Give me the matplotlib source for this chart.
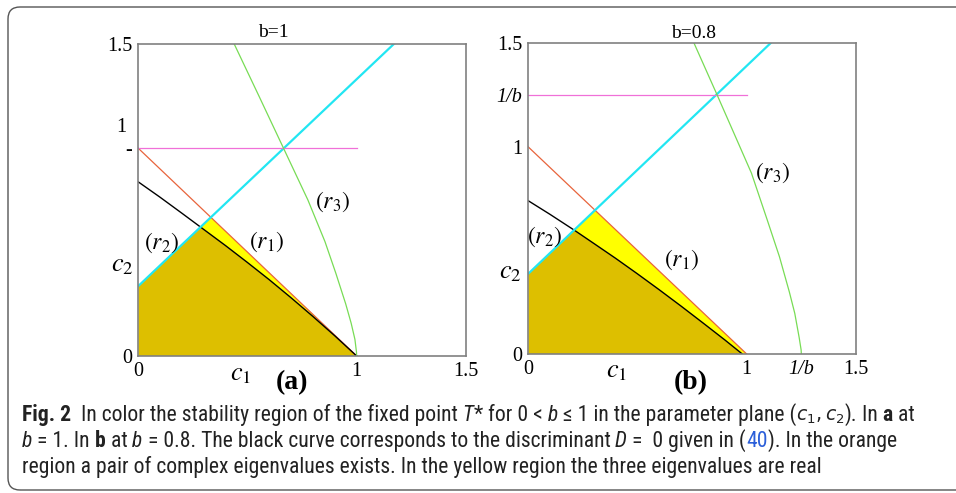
"""
Stability region of the fixed point T* in the (c1, c2) plane, b = 1 and b = 0.8
"""

import matplotlib
matplotlib.use("Agg")
import matplotlib.pyplot as plt
import matplotlib.transforms as mtransforms
from matplotlib import font_manager
from matplotlib.patches import Polygon, FancyBboxPatch


# ── Data ──────────────────────────────────────────────────────────────────────

LIM = 1.5

# panel (a), b = 1
a_r1_c1 = [0.0, 1.0]
a_r1_c2 = [1.0, 0.0]
a_r2_c1 = [0.0, 1.17]
a_r2_c2 = [0.335, 1.5]
a_inv_c1 = [0.0, 1.0]
a_inv_c2 = [1.0, 1.0]
a_disc_c1 = [0.0, 0.1, 0.2, 0.291, 0.4, 0.5, 0.6, 0.7, 0.8, 0.9, 1.0]
a_disc_c2 = [0.838, 0.764, 0.687, 0.616, 0.531, 0.450, 0.367, 0.280, 0.190, 0.097, 0.0]
a_r3_c2 = [0.0, 0.02, 0.08, 0.157, 0.25, 0.397, 0.55, 0.75, 1.0, 1.25, 1.5]
a_r3_c1 = [1.0, 0.999, 0.992, 0.975, 0.950, 0.905, 0.855, 0.777, 0.665, 0.553, 0.44]

# panel (b), b = 0.8
b_r1_c1 = [0.0, 1.0]
b_r1_c2 = [1.0, 0.0]
b_r2_c1 = [0.0, 1.11]
b_r2_c2 = [0.386, 1.5]
b_inv_c1 = [0.0, 1.0]
b_inv_c2 = [1.25, 1.25]
b_disc_c1 = [0.0, 0.1, 0.212, 0.3, 0.4, 0.5, 0.6, 0.7, 0.8, 0.9, 0.98]
b_disc_c2 = [0.740, 0.674, 0.597, 0.534, 0.462, 0.387, 0.310, 0.231, 0.150, 0.068, 0.0]
b_r3_c2 = [0.0, 0.02, 0.08, 0.196, 0.3, 0.469, 0.65, 0.872, 1.05, 1.254, 1.5]
b_r3_c1 = [1.25, 1.249, 1.240, 1.220, 1.195, 1.150, 1.093, 1.022, 0.948, 0.863, 0.759]

# tick labels
a_xticks, a_xlabels = [0, 1, 1.5], ["0", "1", "1.5"]
a_yticks, a_ylabels = [0, 1, 1.5], ["0", "-", "1.5"]
b_xticks, b_xlabels = [0, 1, 1.25, 1.5], ["0", "1", "1/b", "1.5"]
b_yticks, b_ylabels = [0, 1, 1.25, 1.5], ["0", "1", "1/b", "1.5"]

# ── Style ─────────────────────────────────────────────────────────────────────

ORANGE = "#DDBF00"
YELLOW = "#FFFF00"
RED = "#E8643C"
CYAN = "#22E6F2"
PINK = "#F070D8"
GREEN = "#78DC55"
SERIF = "Liberation Serif"

installed = {f.name for f in font_manager.fontManager.ttflist}
CAP_FONT = next((f for f in ["Liberation Sans Narrow", "Roboto Condensed",
                             "Open Sans Condensed", "Open Sans"] if f in installed),
                "DejaVu Sans")

plt.rcParams["font.family"] = [SERIF, "DejaVu Sans"]
plt.rcParams["mathtext.fontset"] = "stix"

fig = plt.figure(figsize=(9.56, 4.93), dpi=100)

# rounded frame around the whole figure (right side runs off the image)
fig.patches.append(FancyBboxPatch((8, 3), 1300, 483,
                                  boxstyle="round,pad=0,rounding_size=12",
                                  transform=mtransforms.IdentityTransform(),
                                  facecolor="none", edgecolor="#555555", lw=1.0))


def draw_panel(ax, r1, r2, inv, disc, r3, xt, yt):
    ax.set_xlim(0, LIM)
    ax.set_ylim(0, LIM)

    # region below the (r2) line, used to clip the coloured areas
    below_r2 = Polygon([(0, 0), (r2[0][0], r2[1][0]), (r2[0][1], r2[1][1]),
                        (LIM, LIM), (LIM, 0)], closed=True,
                       transform=ax.transData)
    yel = ax.fill_between(r1[0], r1[1], 0, color=YELLOW, lw=0)
    yel.set_clip_path(below_r2)
    ora = ax.fill_between(disc[0], disc[1], 0, color=ORANGE, lw=0)
    ora.set_clip_path(below_r2)

    ax.plot(r1[0], r1[1], color=RED, lw=0.9)
    ax.plot(disc[0], disc[1], color="black", lw=1.0)
    ax.plot(r2[0], r2[1], color=CYAN, lw=1.6)
    ax.plot(inv[0], inv[1], color=PINK, lw=0.9)
    ax.plot(r3[0], r3[1], color=GREEN, lw=0.9)

    ax.set_xticks(xt[0], xt[1])
    ax.set_yticks(yt[0], yt[1])
    ax.tick_params(length=0, labelsize=14.5, pad=4)
    for s in ax.spines.values():
        s.set_color("#808080")
        s.set_linewidth(1.2)


ax_a = fig.add_axes([138 / 956, 1 - 356 / 493, 328 / 956, 312 / 493])
ax_b = fig.add_axes([528 / 956, 1 - 354 / 493, 328 / 956, 311 / 493])

draw_panel(ax_a, (a_r1_c1, a_r1_c2), (a_r2_c1, a_r2_c2), (a_inv_c1, a_inv_c2),
           (a_disc_c1, a_disc_c2), (a_r3_c1, a_r3_c2),
           (a_xticks, a_xlabels), (a_yticks, a_ylabels))
draw_panel(ax_b, (b_r1_c1, b_r1_c2), (b_r2_c1, b_r2_c2), (b_inv_c1, b_inv_c2),
           (b_disc_c1, b_disc_c2), (b_r3_c1, b_r3_c2),
           (b_xticks, b_xlabels), (b_yticks, b_ylabels))

for lab in ax_b.get_xticklabels() + ax_b.get_yticklabels():
    if lab.get_text() == "1/b":
        lab.set_fontstyle("italic")

LBL = 17      # curve labels (r1), (r2), (r3)
VAR = 19      # c1 / c2 axis names

# labels inside / around panel (a)
ax_a.text(-0.078, 1.10, "1", fontsize=14.5, ha="center", va="center", clip_on=False)
ax_a.text(0.617, 1.553, "b=1", fontsize=14, ha="center", va="center", clip_on=False)
ax_a.text(-0.073, 0.433, r"$c_{\mathit{2}}$", fontsize=VAR, ha="center", va="center")
ax_a.text(0.471, -0.091, r"$c_{\mathit{1}}$", fontsize=VAR, ha="center", va="center")
ax_a.text(0.704, -0.13, "(a)", fontsize=20, fontweight="bold", ha="center", va="center")
ax_a.text(0.11, 0.543, r"$(r_{\mathit{2}})$", fontsize=LBL, ha="center", va="center")
ax_a.text(0.59, 0.548, r"$(r_{\mathit{1}})$", fontsize=LBL, ha="center", va="center")
ax_a.text(0.892, 0.74, r"$(r_{\mathit{3}})$", fontsize=LBL, ha="center", va="center")

# labels inside / around panel (b)
ax_b.text(0.759, 1.548, "b=0.8", fontsize=14, ha="center", va="center", clip_on=False)
ax_b.text(-0.082, 0.39, r"$c_{\mathit{2}}$", fontsize=VAR, ha="center", va="center")
ax_b.text(0.407, -0.087, r"$c_{\mathit{1}}$", fontsize=VAR, ha="center", va="center")
ax_b.text(0.744, -0.14, "(b)", fontsize=20, fontweight="bold", ha="center", va="center")
ax_b.text(0.078, 0.564, r"$(r_{\mathit{2}})$", fontsize=LBL, ha="center", va="center")
ax_b.text(0.704, 0.453, r"$(r_{\mathit{1}})$", fontsize=LBL, ha="center", va="center")
ax_b.text(1.12, 0.873, r"$(r_{\mathit{3}})$", fontsize=LBL, ha="center", va="center")


# ── Caption ───────────────────────────────────────────────────────────────────

renderer = fig.canvas.get_renderer()
PIX = mtransforms.IdentityTransform()
CAP_SIZE = 15.6
REG = dict(family=[CAP_FONT, "DejaVu Sans"], color="#222222")


def caption_line(y_base, runs):
    x = 22
    for s, extra in runs:
        kw = dict(REG, fontsize=CAP_SIZE, math_fontfamily="dejavusans")
        kw.update(extra)
        t = fig.text(x, 493 - y_base, s, transform=PIX, va="baseline", **kw)
        x = t.get_window_extent(renderer).x1


IT = {"fontstyle": "italic"}
BD = {"fontweight": "bold"}
MATH = {"fontsize": CAP_SIZE - 2}

caption_line(421, [("Fig. 2", BD),
                   ("  In color the stability region of the fixed point", {}),
                   (" T", IT), ("*", {}), (" for 0 <", {}), (" b", IT),
                   (" ≤ 1 in the parameter plane (", {}),
                   (r"$c_1,c_2$", MATH), (").", {}), (" In", {}), (" a", BD),
                   (" at", {})])
caption_line(447, [("b", IT), (" = 1. In", {}), (" b", BD), (" at", {}),
                   (" b", IT), (" = 0.8. The black curve corresponds to the discriminant", {}),
                   (" D", IT), (" =  0 given in (", {}), ("40", {"color": "#2B5FD9"}),
                   ("). In the orange", {})])
caption_line(473, [("region a pair of complex eigenvalues exists. "
                    "In the yellow region the three eigenvalues are real", {})])

fig.savefig("out.png", dpi=100)
